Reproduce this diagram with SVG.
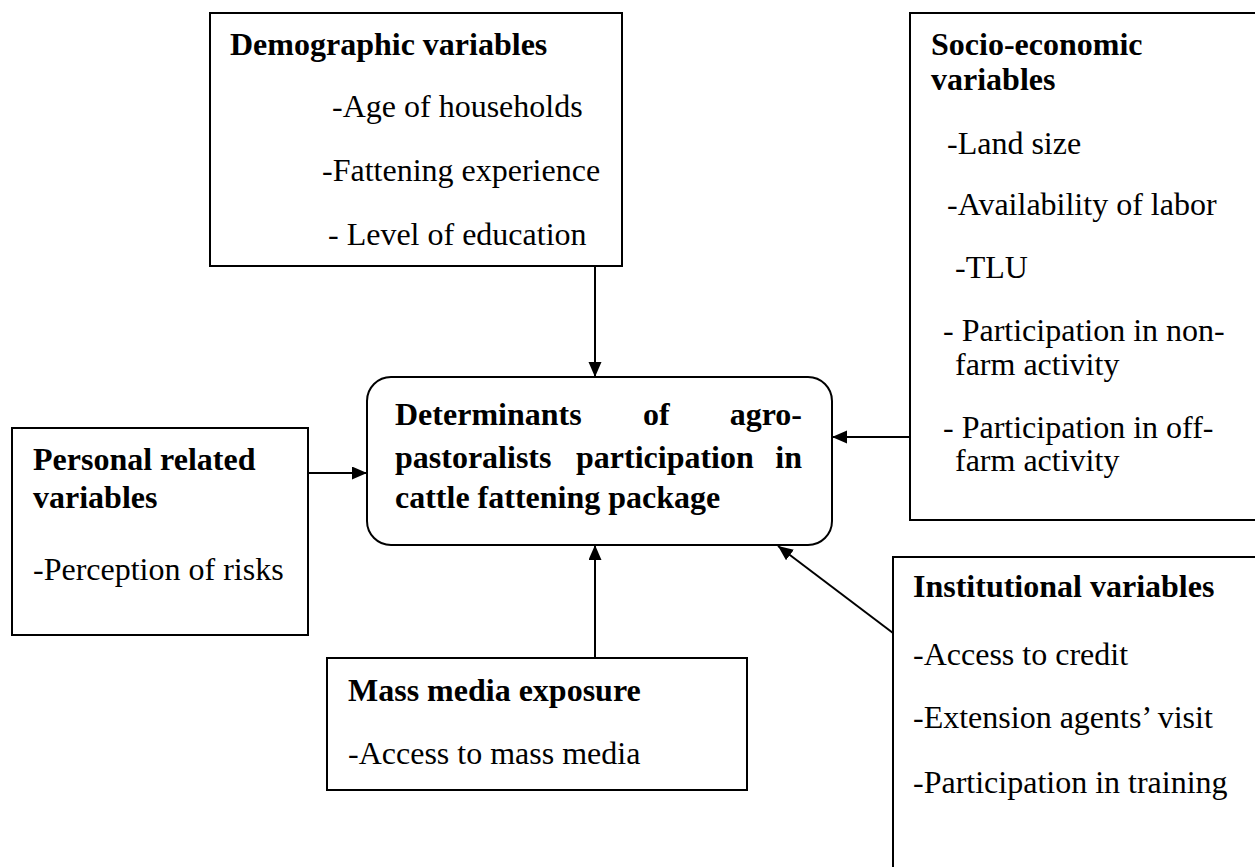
<svg xmlns="http://www.w3.org/2000/svg" width="1255" height="867" viewBox="0 0 1255 867">
<defs>
<style>
.box{fill:#fff;stroke:#000;stroke-width:2}
.t{font-family:"Liberation Serif","Times New Roman",serif;font-size:32px;fill:#000}
.b{font-weight:bold}
.c{stroke:#000;stroke-width:2;fill:none}
</style>
<marker id="ah" markerUnits="userSpaceOnUse" markerWidth="16" markerHeight="14" refX="15" refY="6.5" orient="auto">
<path d="M0,0 L15,6.5 L0,13 z" fill="#000"/>
</marker>
</defs>
<rect width="1255" height="867" fill="#fff"/>
<g id="connectors">
<line class="c" x1="595" y1="266" x2="595" y2="377" marker-end="url(#ah)"/>
<line class="c" x1="308" y1="473" x2="367" y2="473" marker-end="url(#ah)"/>
<line class="c" x1="910" y1="437" x2="832" y2="437" marker-end="url(#ah)"/>
<line class="c" x1="595" y1="658" x2="595" y2="545" marker-end="url(#ah)"/>
<line class="c" x1="893" y1="633" x2="778" y2="546" marker-end="url(#ah)"/>
</g>
<g id="demographic">
<rect class="box" x="210" y="13" width="412" height="253"/>
<text class="t b" x="230" y="55">Demographic variables</text>
<text class="t" x="332" y="117">-Age of households</text>
<text class="t" x="322" y="181">-Fattening experience</text>
<text class="t" x="328" y="245">- Level of education</text>
</g>
<g id="socioeconomic">
<rect class="box" x="910" y="13" width="360" height="507"/>
<text class="t b" x="931" y="55">Socio-economic</text>
<text class="t b" x="931" y="90">variables</text>
<text class="t" x="947" y="154">-Land size</text>
<text class="t" x="947" y="215">-Availability of labor</text>
<text class="t" x="955" y="278">-TLU</text>
<text class="t" x="943" y="341">- Participation in non-</text>
<text class="t" x="955" y="375">farm activity</text>
<text class="t" x="943" y="438">- Participation in off-</text>
<text class="t" x="955" y="471">farm activity</text>
</g>
<g id="central">
<rect class="box" x="367" y="377" width="465" height="168" rx="24" ry="24"/>
<text class="t b" x="395" y="425">Determinants</text>
<text class="t b" x="643" y="425">of</text>
<text class="t b" x="802" y="425" text-anchor="end">agro-</text>
<text class="t b" x="395" y="468">pastoralists</text>
<text class="t b" x="576" y="468">participation</text>
<text class="t b" x="802" y="468" text-anchor="end">in</text>
<text class="t b" x="395" y="508">cattle fattening package</text>
</g>
<g id="personal">
<rect class="box" x="12" y="428" width="296" height="207"/>
<text class="t b" x="33" y="470">Personal related</text>
<text class="t b" x="33" y="508">variables</text>
<text class="t" x="33" y="580">-Perception of risks</text>
</g>
<g id="massmedia">
<rect class="box" x="327" y="658" width="420" height="132"/>
<text class="t b" x="348" y="701">Mass media exposure</text>
<text class="t" x="348" y="764">-Access to mass media</text>
</g>
<g id="institutional">
<rect class="box" x="893" y="557" width="370" height="330"/>
<text class="t b" x="913" y="597">Institutional variables</text>
<text class="t" x="913" y="665">-Access to credit</text>
<text class="t" x="913" y="728">-Extension agents’ visit</text>
<text class="t" x="913" y="793">-Participation in training</text>
</g>
</svg>
